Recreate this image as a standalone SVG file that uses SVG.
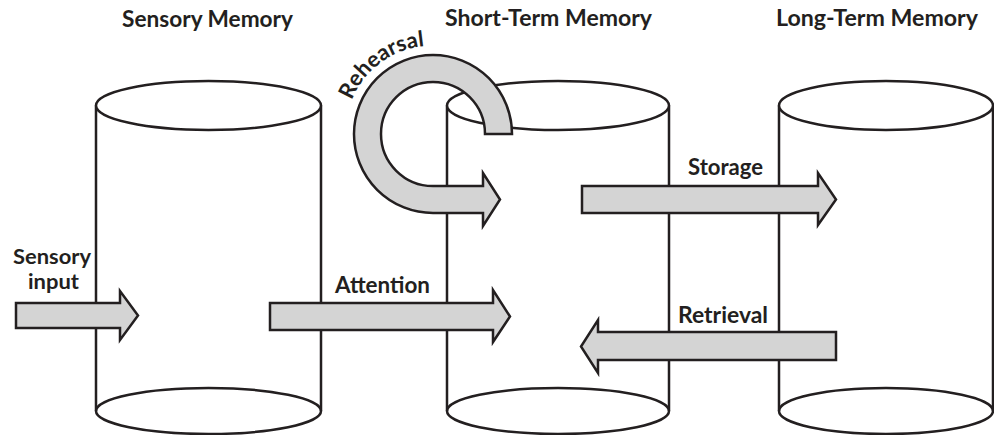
<svg xmlns="http://www.w3.org/2000/svg" width="994" height="435" viewBox="0 0 994 435">
<style>
.cyl{fill:#fff;stroke:#231f20;stroke-width:2.5}
.side{fill:none;stroke:#231f20;stroke-width:2.5}
.arr{fill:#d4d4d4;stroke:#231f20;stroke-width:2.5;stroke-linejoin:miter}
.t{font-family:Lato,"Open Sans","Liberation Sans",sans-serif;font-weight:700;font-size:22px;fill:#231f20}
.s{font-size:20.5px}
</style>
<rect width="994" height="435" fill="#fff"/>
<defs>
<path id="rehPath" d="M 350.3 103.9 A 87 87 0 0 1 463.1 51.3"/>
</defs>
<g id="node-sensory">
<ellipse class="cyl" cx="208.5" cy="411" rx="112.5" ry="23"/>
<line class="side" x1="96" y1="105.5" x2="96" y2="411"/>
<line class="side" x1="321" y1="105.5" x2="321" y2="411"/>
<ellipse class="cyl" cx="208.5" cy="105.5" rx="112.5" ry="24.5"/>
<text class="t" x="207.5" y="27" text-anchor="middle" textLength="171" lengthAdjust="spacingAndGlyphs">Sensory Memory</text>
</g>
<g id="node-stm">
<ellipse class="cyl" cx="558" cy="411" rx="111" ry="23"/>
<line class="side" x1="447" y1="105.5" x2="447" y2="411"/>
<line class="side" x1="669" y1="105.5" x2="669" y2="411"/>
<ellipse class="cyl" cx="558" cy="105.5" rx="111" ry="24.5"/>
<text class="t" x="548.5" y="26" text-anchor="middle" textLength="207" lengthAdjust="spacingAndGlyphs">Short-Term Memory</text>
</g>
<g id="node-ltm">
<ellipse class="cyl" cx="886" cy="411" rx="107" ry="23"/>
<line class="side" x1="779" y1="105.5" x2="779" y2="411"/>
<line class="side" x1="993" y1="105.5" x2="993" y2="411"/>
<ellipse class="cyl" cx="886" cy="105.5" rx="107" ry="24.5"/>
<text class="t" x="877" y="26" text-anchor="middle" textLength="202" lengthAdjust="spacingAndGlyphs">Long-Term Memory</text>
</g>
<g id="connectors">
<g id="edge-sensory-input">
<path class="arr" d="M16 303 H120 V291 L138 315.5 L120 340 V328 H16 Z"/>
<text class="t s" x="13" y="264" textLength="78" lengthAdjust="spacingAndGlyphs">Sensory</text>
<text class="t s" x="28" y="289" textLength="51" lengthAdjust="spacingAndGlyphs">input</text>
</g>
<g id="edge-attention">
<path class="arr" d="M270 303 H493 V290 L510 316.5 L493 342 V330 H270 Z"/>
<text class="t" x="335" y="293" textLength="95" lengthAdjust="spacingAndGlyphs">Attention</text>
</g>
<g id="edge-storage">
<path class="arr" d="M582 186 H818 V173 L836 199.5 L818 225 V213 H582 Z"/>
<text class="t" x="688" y="175" textLength="75" lengthAdjust="spacingAndGlyphs">Storage</text>
</g>
<g id="edge-retrieval">
<path class="arr" d="M836 332 H598 V320 L581 346.5 L598 373 V360 H836 Z"/>
<text class="t" x="678" y="323" textLength="90" lengthAdjust="spacingAndGlyphs">Retrieval</text>
</g>
<g id="edge-rehearsal">
<path class="arr" d="M512 134 A79 79 0 1 0 433 213 L483 213 L483 226 L500 199.5 L483 173 L483 186 L433 186 A52 52 0 1 1 485 134 Z"/>
<text class="t"><textPath href="#rehPath" startOffset="4">Rehearsal</textPath></text>
</g>
</g>
</svg>
